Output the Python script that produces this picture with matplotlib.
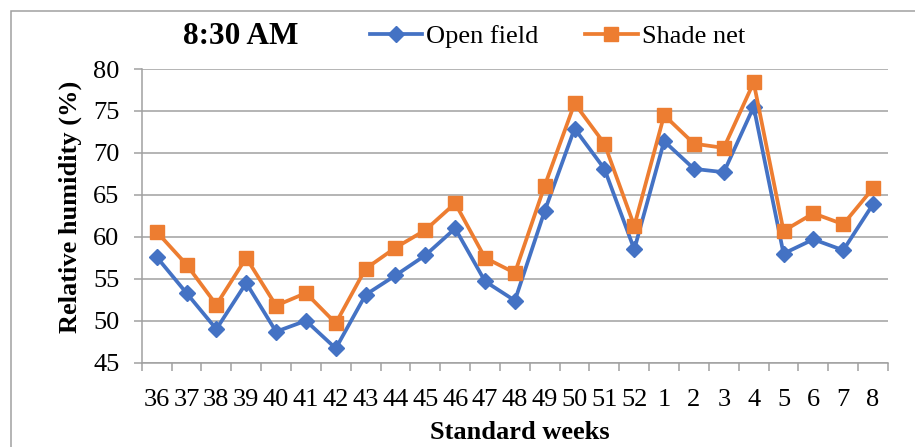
import matplotlib
matplotlib.use("Agg")
import matplotlib.pyplot as plt
from matplotlib.patches import Rectangle
from matplotlib.ticker import FixedLocator

plt.rcParams['font.family'] = ['Liberation Serif', 'DejaVu Serif']

# Standard weeks and relative humidity (%) at 8:30 AM
weeks = ['36', '37', '38', '39', '40', '41', '42', '43', '44', '45', '46', '47', '48',
         '49', '50', '51', '52', '1', '2', '3', '4', '5', '6', '7', '8']
open_field = [57.6, 53.3, 49.0, 54.5, 48.7, 50.0, 46.7, 53.1, 55.4, 57.8, 61.0, 54.7, 52.4,
              63.1, 72.9, 68.1, 58.5, 71.4, 68.1, 67.7, 75.5, 58.0, 59.7, 58.4, 63.9]
shade_net = [60.6, 56.7, 51.9, 57.5, 51.8, 53.3, 49.7, 56.2, 58.7, 60.8, 64.0, 57.5, 55.7,
             66.1, 75.9, 71.1, 61.3, 74.5, 71.1, 70.6, 78.4, 60.7, 62.8, 61.5, 65.8]
y_ticks = [45, 50, 55, 60, 65, 70, 75, 80]

blue = '#4472C4'
orange = '#ED7D31'
grid_col = '#A0A0A0'

fig = plt.figure(figsize=(9.15, 4.47), dpi=100)
ax = fig.add_axes([0.1549, 0.1886, 0.8156, 0.657])

x = list(range(len(weeks)))
ax.plot(x, open_field, color=blue, lw=2.7, marker='D', ms=8, label='Open field', zorder=3)
ax.plot(x, shade_net, color=orange, lw=2.7, marker='s', ms=10.5, label='Shade net', zorder=3)

ax.set_xlim(-0.5, len(weeks) - 0.5)
ax.set_ylim(45, 80)
ax.set_yticks(y_ticks)
ax.set_xticks(x)
ax.set_xticklabels(weeks)
ax.xaxis.set_minor_locator(FixedLocator([i - 0.5 for i in range(len(weeks) + 1)]))

ax.grid(axis='y', color=grid_col, lw=1.1)
ax.set_axisbelow(True)
for s in ['top', 'right']:
    ax.spines[s].set_visible(False)
for s in ['left', 'bottom']:
    ax.spines[s].set_color(grid_col)
    ax.spines[s].set_linewidth(1.1)

ax.tick_params(axis='y', which='major', direction='out', length=6, width=1.1,
               color=grid_col, labelsize=19, pad=10)
ax.tick_params(axis='x', which='major', length=0, labelsize=19, pad=19)
ax.tick_params(axis='x', which='minor', direction='out', length=6, width=1.1, color=grid_col)

ax.set_ylabel('Relative humidity (%)', fontsize=19, fontweight='bold')
ax.yaxis.set_label_coords(-0.096, 0.529)
ax.yaxis.label.set_va('center')
ax.set_xlabel('Standard weeks', fontsize=19, fontweight='bold')
ax.xaxis.set_label_coords(0.507, -0.238)
ax.xaxis.label.set_va('center')

fig.text(0.2634, 0.919, '8:30 AM', fontsize=22.5, fontweight='bold', ha='center', va='center')

fig.legend(loc='center left', bbox_to_anchor=(0.404, 0.919), ncol=2, frameon=False,
           fontsize=19, handlelength=2.0, handletextpad=0.15, columnspacing=1.75,
           borderpad=0, borderaxespad=0)

fig.add_artist(Rectangle((0.012, -0.1), 1.2, 1.076, transform=fig.transFigure,
                         fill=False, edgecolor=grid_col, lw=1.1))

fig.savefig('out.png', dpi=100)
